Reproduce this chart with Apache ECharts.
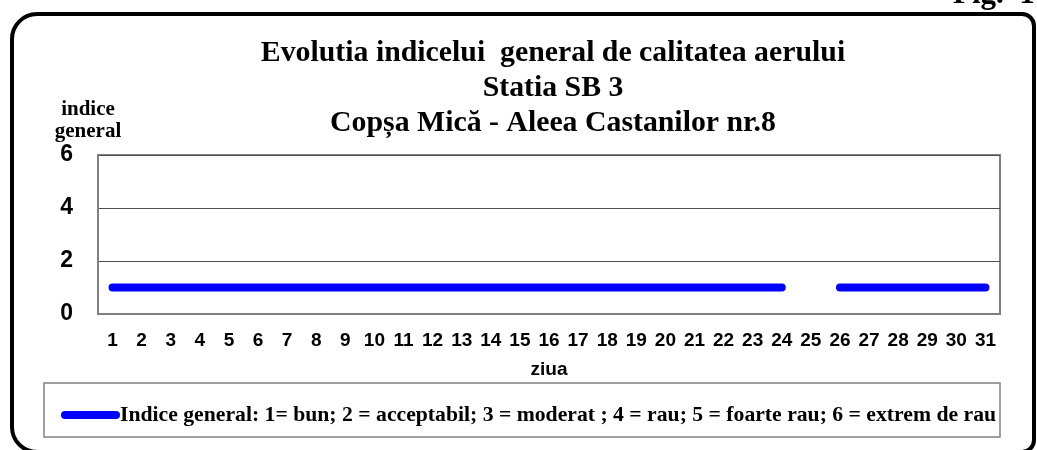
<!DOCTYPE html>
<html>
<head>
<meta charset="utf-8">
<script src="https://cdn.jsdelivr.net/npm/echarts@6/dist/echarts.min.js"></script>
<style>
  html, body { margin: 0; padding: 0; background: #fff; }
  #main { width: 1037px; height: 450px; }
</style>
</head>
<body>
<div id="main"></div>
<script>
// zilele lunii
var days = [];
for (var d = 1; d <= 31; d++) { days.push(String(d)); }
// indice general pe zile (ziua 25 lipsa)
var indiceGeneral = [1, 1, 1, 1, 1, 1, 1, 1, 1, 1, 1, 1, 1, 1, 1, 1, 1, 1, 1, 1, 1, 1, 1, 1,
  null, 1, 1, 1, 1, 1, 1];
var yTicks = [0, 2, 4, 6];

var seriesName = 'Indice general: 1= bun; 2 = acceptabil; 3 = moderat ; 4 = rau; 5 = foarte rau; 6 = extrem de rau';

var myChart = echarts.init(document.getElementById('main'));

var option = {
  animation: false,
  title: {
    text: 'Evolutia indicelui  general de calitatea aerului\nStatia SB 3\nCopșa Mică - Aleea Castanilor nr.8',
    left: 548,
    textAlign: 'center',
    top: 31,
    textStyle: {
      fontFamily: 'Liberation Serif',
      fontWeight: 'bold',
      fontSize: 29.8,
      lineHeight: 35,
      color: '#000'
    }
  },
  graphic: [
    {
      type: 'rect',
      shape: { x: 12, y: 14, width: 1022, height: 438, r: [25, 12, 12, 25] },
      style: { fill: 'none', stroke: '#000', lineWidth: 4 },
      silent: true
    },
    {
      type: 'rect',
      shape: { x: 44, y: 383, width: 956, height: 54 },
      style: { fill: 'none', stroke: '#808080', lineWidth: 1.5 },
      silent: true
    },
    {
      type: 'text',
      x: 953,
      y: 10,
      style: {
        text: 'Fig.  1',
        font: 'bold 31px "Liberation Serif"',
        fill: '#000',
        verticalAlign: 'bottom'
      },
      silent: true
    }
  ],
  legend: {
    left: 56,
    top: 399,
    itemWidth: 59,
    itemHeight: 8,
    icon: 'path://M4,0 H55 A4,4 0 0 1 55,8 H4 A4,4 0 0 1 4,0 Z',
    data: [seriesName],
    textStyle: {
      fontFamily: 'Liberation Serif',
      fontWeight: 'bold',
      fontSize: 21.7,
      color: '#000',
      padding: [0, 0, 0, -5]
    }
  },
  grid: {
    left: 98,
    right: 37,
    top: 155,
    bottom: 136,
    show: true,
    borderColor: '#808080',
    borderWidth: 2
  },
  xAxis: {
    type: 'category',
    data: days,
    name: 'ziua',
    nameLocation: 'middle',
    nameGap: 46,
    nameTextStyle: {
      fontFamily: 'Liberation Sans',
      fontWeight: 'bold',
      fontSize: 19,
      color: '#000'
    },
    axisTick: { show: false },
    axisLine: { lineStyle: { color: '#808080', width: 2 } },
    axisLabel: {
      fontFamily: 'Liberation Sans',
      fontWeight: 'bold',
      fontSize: 19,
      color: '#000',
      margin: 17,
      interval: 0
    }
  },
  yAxis: {
    type: 'value',
    min: yTicks[0],
    max: yTicks[yTicks.length - 1],
    interval: 2,
    name: 'indice\ngeneral',
    nameLocation: 'end',
    nameGap: 12,
    nameTextStyle: {
      fontFamily: 'Liberation Serif',
      fontWeight: 'bold',
      fontSize: 21,
      lineHeight: 22,
      color: '#000',
      align: 'center',
      padding: [0, 20, 0, 0]
    },
    axisLine: { show: true, lineStyle: { color: '#808080', width: 2 } },
    axisTick: { show: false },
    splitLine: { lineStyle: { color: '#505050', width: 1 } },
    axisLabel: {
      fontFamily: 'Liberation Sans',
      fontWeight: 'bold',
      fontSize: 23,
      color: '#000',
      margin: 25
    }
  },
  series: [
    {
      name: seriesName,
      type: 'line',
      data: indiceGeneral,
      showSymbol: false,
      connectNulls: false,
      itemStyle: { color: '#0000ff' },
      lineStyle: { color: '#0000ff', width: 8, cap: 'round' }
    }
  ]
};

myChart.setOption(option);
</script>
</body>
</html>
